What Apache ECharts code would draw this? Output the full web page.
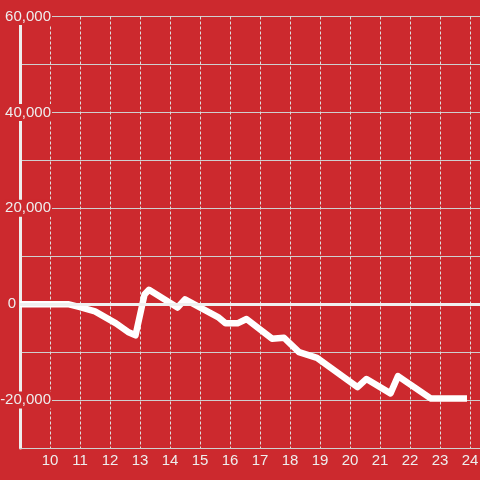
<!DOCTYPE html>
<html>
<head>
<meta charset="utf-8">
<script src="https://cdn.jsdelivr.net/npm/echarts@6/dist/echarts.min.js"></script>
<style>
html,body{margin:0;padding:0;background:#cc292e;}
#c{width:480px;height:480px;}
</style>
</head>
<body>
<div id="c"></div>
<script>
// hour of day
var hours = [9, 10.6, 11, 11.5, 12.2, 12.6, 12.85, 13.15, 13.3, 14.25, 14.5, 15.6, 15.85, 16.25, 16.55, 17.4, 17.8, 18.3, 18.9, 20.25, 20.55, 21.35, 21.6, 22.7, 23.9];
var values = [0, 0, -600, -1500, -4000, -5800, -6500, 2000, 3000, -700, 1000, -2700, -4000, -4000, -3100, -7200, -7000, -10000, -11200, -17300, -15600, -18600, -15000, -19700, -19700];
var xTickLabels = [10, 11, 12, 13, 14, 15, 16, 17, 18, 19, 20, 21, 22, 23, 24];
var yTickLabels = [60000, 40000, 20000, 0, -20000];

var BG = '#cc292e';
var TXT = '#eeeeee';
var data = hours.map(function (h, i) { return [h, values[i]]; });

var chart = echarts.init(document.getElementById('c'));
chart.setOption({
  backgroundColor: BG,
  animation: false,
  grid: { left: 20, right: 0, top: 16.5, bottom: 32, containLabel: false, outerBoundsMode: 'none' },
  xAxis: {
    type: 'value', min: 9, max: 24.3333, interval: 1,
    axisLine: { show: true, onZero: false, lineStyle: { color: '#d0d0d0', width: 1 } },
    axisTick: { show: false },
    axisLabel: {
      color: TXT, fontSize: 15, fontFamily: 'Liberation Sans, Arial, sans-serif', margin: 5,
      formatter: function (v) { return xTickLabels.indexOf(v) >= 0 ? String(v) : ''; }
    },
    splitLine: { show: true, lineStyle: { color: '#dddddd', width: 1, type: [3, 2] } }
  },
  yAxis: {
    type: 'value', min: -30000, max: 60000, interval: 10000,
    axisLine: { show: true, lineStyle: { color: '#eeeeee', width: 3 } },
    axisTick: { show: false },
    axisLabel: {
      align: 'right', margin: -32,
      formatter: function (v) {
        if (yTickLabels.indexOf(v) < 0) return '';
        if (v === 0) return '{z|0}';
        return '{a|' + echarts.format.addCommas(v) + '}';
      },
      rich: {
        a: { color: TXT, fontSize: 15, fontFamily: 'Liberation Sans, Arial, sans-serif', backgroundColor: BG, padding: [1, 1, 1, 1] },
        z: { color: TXT, fontSize: 15, fontFamily: 'Liberation Sans, Arial, sans-serif', padding: [0, 36, 0, 0] }
      }
    },
    splitLine: { show: true, lineStyle: { color: '#cfcfcf', width: 1 } }
  },
  series: [{
    type: 'line',
    data: data,
    showSymbol: false,
    symbol: 'none',
    lineStyle: { color: '#ffffff', width: 6.5, join: 'round' },
    markLine: {
      silent: true, symbol: ['none', 'none'],
      label: { show: false },
      lineStyle: { color: '#f0f0f0', width: 3, type: 'solid' },
      data: [{ yAxis: 0 }]
    }
  }]
});
</script>
</body>
</html>
